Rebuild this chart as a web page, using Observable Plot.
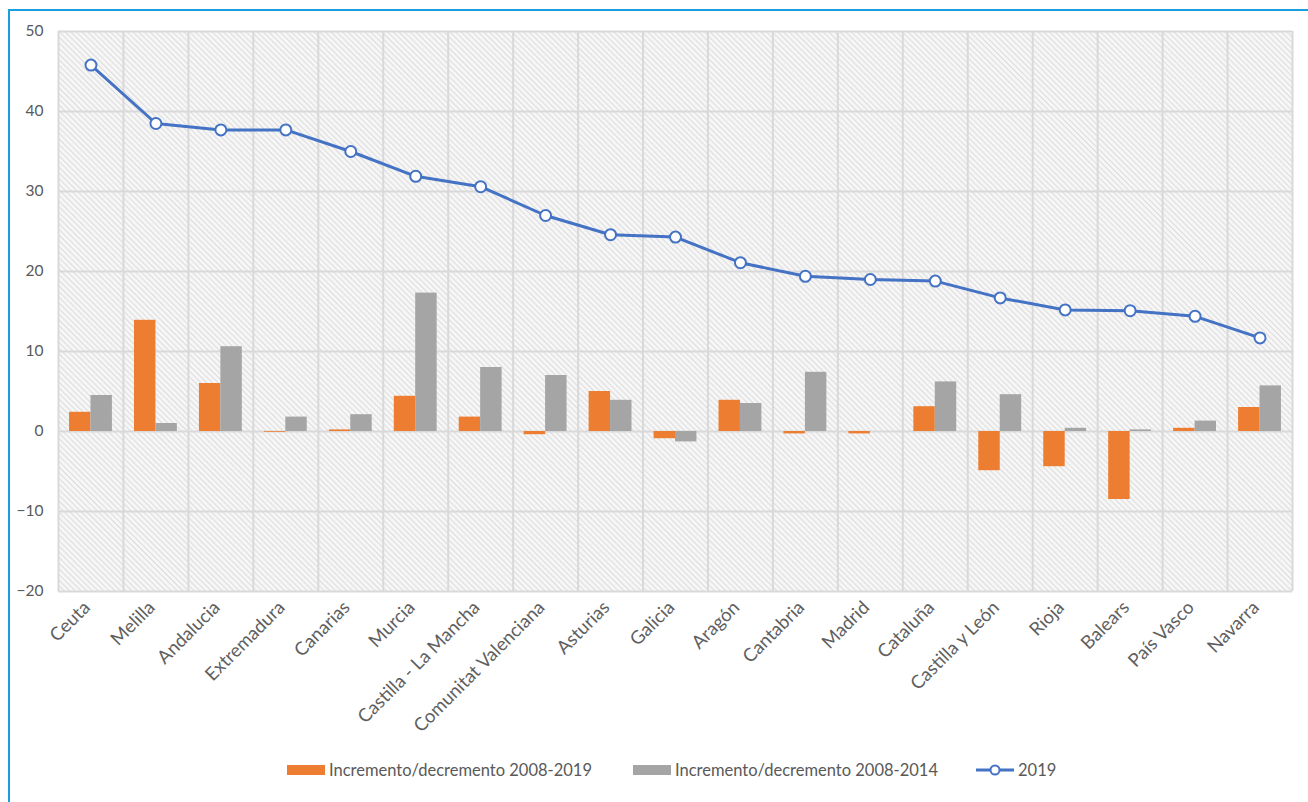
<!DOCTYPE html>
<html><head><meta charset="utf-8">
<script src="https://cdn.jsdelivr.net/npm/d3@7"></script>
<script src="https://cdn.jsdelivr.net/npm/@observablehq/plot@0.6"></script>
<style>
body{margin:0;background:#fff;}
#wrap{position:relative;width:1308px;height:802px;overflow:hidden;font-family:Lato,"Open Sans",sans-serif;background:#fff;}
#frame{position:absolute;left:8px;top:9px;right:-4px;bottom:-4px;border-left:2px solid #1a9ee0;border-top:2px solid #1a9ee0;}
#chart{position:absolute;left:0;top:0;}
.lg{position:absolute;top:760px;height:20px;display:flex;align-items:center;font-size:16.5px;color:#595959;white-space:nowrap;}
.sw{display:inline-block;width:38px;height:10px;margin-right:4px;}
</style></head>
<body>
<div id="wrap">
  <div id="frame"></div>
  <div id="chart"></div>
</div>
<script>
const regions = ["Ceuta","Melilla","Andalucia","Extremadura","Canarias","Murcia","Castilla - La Mancha","Comunitat Valenciana","Asturias","Galicia","Aragón","Cantabria","Madrid","Cataluña","Castilla y León","Rioja","Balears","País Vasco","Navarra"];
const v2019 = [45.8,38.5,37.7,37.7,35.0,31.9,30.6,27.0,24.6,24.3,21.1,19.4,19.0,18.8,16.7,15.2,15.1,14.4,11.7];
const inc0819 = [2.4,13.9,6.0,-0.1,0.2,4.4,1.8,-0.4,5.0,-0.9,3.9,-0.3,-0.3,3.1,-4.9,-4.4,-8.5,0.4,3.0];
const inc0814 = [4.5,1.0,10.6,1.8,2.1,17.3,8.0,7.0,3.9,-1.3,3.5,7.4,0,6.2,4.6,0.4,0.2,1.3,5.7];
const yTicks = [-20,-10,0,10,20,30,40,50];
const seriesNames = ["Incremento/decremento 2008-2019","Incremento/decremento 2008-2014","2019"];
const colors = ["#ed7d31","#a5a5a5","#4472c4"];

const rows = regions.map((r,i)=>({i, r, a: inc0819[i], b: inc0814[i], v: v2019[i]}));
const H = 745;
const chart = Plot.plot({
  width:1308, height:H,
  marginLeft:58, marginRight:16, marginTop:31, marginBottom:H-591,
  style:{fontFamily:"Lato, 'Open Sans', sans-serif", background:"transparent", overflow:"visible"},
  x:{domain:[0,regions.length], axis:null},
  y:{domain:[-20,50], axis:null},
  marks:[
    Plot.frame({fill:"#f3f3f3", stroke:null}),
    Plot.ruleY(yTicks, {stroke:"#d9d9d9", strokeWidth:2}),
    Plot.ruleX(d3.range(0, regions.length+1), {stroke:"#d9d9d9", strokeWidth:2}),
    Plot.rect(rows,{x1:d=>d.i+0.17,x2:d=>d.i+0.5,y1:0,y2:"a",fill:colors[0]}),
    Plot.rect(rows,{x1:d=>d.i+0.5,x2:d=>d.i+0.83,y1:0,y2:"b",fill:colors[1]}),
    Plot.line(rows,{x:d=>d.i+0.5,y:"v",stroke:colors[2],strokeWidth:3}),
    Plot.dot(rows,{x:d=>d.i+0.5,y:"v",r:5.5,fill:"white",stroke:colors[2],strokeWidth:2}),
    Plot.axisY(yTicks,{tickSize:0,tickPadding:15,fontSize:15.5,fill:"#595959",label:null}),
    Plot.text(rows,{x:d=>d.i+0.5,y:()=>-20,text:"r",rotate:-45,textAnchor:"end",lineAnchor:"middle",dx:-4,dy:13,fontSize:18.5,fill:"#5f5f5f"})
  ]
});
// hatch pattern
const svg = d3.select(chart);
const defs = svg.insert("defs",":first-child");
const pat = defs.append("pattern").attr("id","hatch").attr("patternUnits","userSpaceOnUse")
  .attr("width",4).attr("height",4).attr("patternTransform","rotate(45)");
pat.append("rect").attr("width",4).attr("height",4).attr("fill","#f6f6f6");
pat.append("line").attr("x1",0).attr("y1",0.5).attr("x2",4).attr("y2",0.5).attr("stroke","#dcdcdc").attr("stroke-width",1);
svg.select("[aria-label=frame]").attr("fill","url(#hatch)");
svg.selectAll("[aria-label=frame] rect").attr("fill","url(#hatch)");
document.getElementById("chart").appendChild(chart);

// legend
const wrap = document.getElementById("wrap");
const lefts = [287,633,975];
seriesNames.forEach((name,k)=>{
  const div = document.createElement("div");
  div.className = "lg";
  div.style.left = lefts[k]+"px";
  if (k<2) {
    const sw = document.createElement("span");
    sw.className="sw"; sw.style.background = colors[k];
    div.appendChild(sw);
  } else {
    const s = d3.create("svg").attr("width",40).attr("height",14).style("margin-right","3px");
    s.append("line").attr("x1",1).attr("x2",39).attr("y1",7).attr("y2",7).attr("stroke",colors[2]).attr("stroke-width",3);
    s.append("circle").attr("cx",20).attr("cy",7).attr("r",4.5).attr("fill","white").attr("stroke",colors[2]).attr("stroke-width",2);
    div.appendChild(s.node());
  }
  div.appendChild(document.createTextNode(name));
  wrap.appendChild(div);
});
</script>
</body></html>
